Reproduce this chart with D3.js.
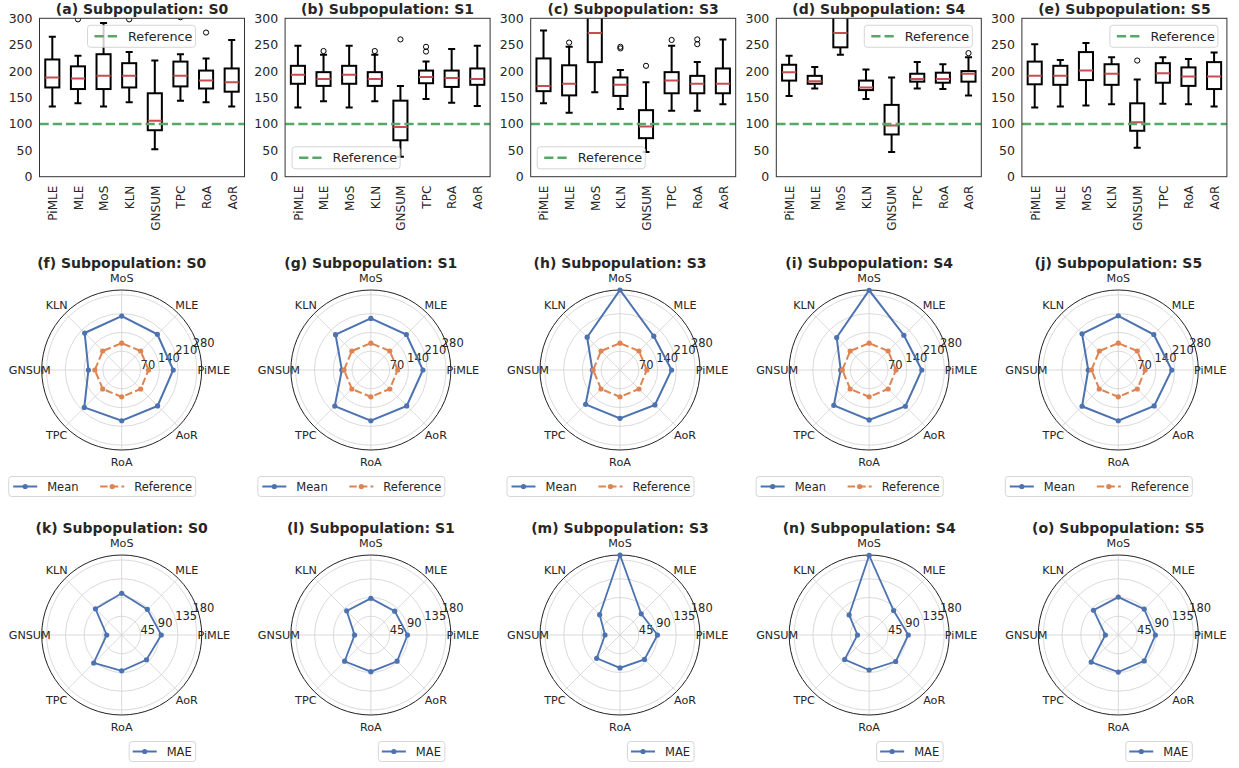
<!DOCTYPE html>
<html>
<head>
<meta charset="utf-8">
<script src="https://cdn.jsdelivr.net/npm/d3@7"></script>
<style>
  body { margin: 0; background: #fff; }
  svg { display: block; }
  text { font-family: "DejaVu Sans", sans-serif; fill: #262626; }
</style>
</head>
<body>
<svg id="chart" width="1239" height="768"></svg>
<script>
// ---------- data ----------
const methods = ["PiMLE", "MLE", "MoS", "KLN", "GNSUM", "TPC", "RoA", "AoR"];
const subpops = ["S0", "S1", "S3", "S4", "S5"];
const referenceValue = 100;
const boxYTicks = [0, 50, 100, 150, 200, 250, 300];
const meanRadialTicks = [70, 140, 210, 280];
const maeRadialTicks = [45, 90, 135, 180];

// box summaries per method: [lower whisker, Q1, median, Q3, upper whisker]
const boxS0 = [[133,169,188,222,265],[139,166,186,209,229],[133,166,191,232,291],[141,169,191,215,236],
               [52,88,106,158,220],[144,171,191,218,232],[141,167,182,201,224],[133,161,179,205,259]];
const boxS1 = [[131,176,193,210,248],[143,172,185,198,231],[131,176,193,210,248],[143,172,185,198,231],
               [38,69,94,144,172],[147,177,189,201,218],[140,170,187,201,242],[134,174,185,205,248]];
const boxS3 = [[139,162,172,224,277],[121,154,176,211,246],[160,217,272,318,390],[128,153,174,188,202],
               [47,73,95,126,179],[125,158,182,198,248],[125,158,176,191,217],[137,158,176,205,260]];
const boxS4 = [[153,182,198,212,229],[167,176,181,191,208],[231,245,272,312,350],[147,164,169,182,203],
               [47,80,97,136,188],[167,180,185,195,217],[166,178,185,197,213],[154,180,195,200,226]];
const boxS5 = [[131,175,191,218,251],[133,174,191,210,221],[135,183,201,236,253],[137,174,195,213,226],
               [55,87,103,139,184],[138,178,196,215,226],[137,172,190,207,223],[133,166,190,217,235]];

// outliers per method
const outliersS0 = [[], [298], [], [298], [], [302], [273], []];
const outliersS1 = [[], [238], [], [238], [260], [237, 246], [], []];
const outliersS3 = [[], [254], [], [243, 246], [210], [259], [251, 260], []];
const outliersS4 = [[], [], [], [], [], [], [], [234]];
const outliersS5 = [[], [], [], [], [220], [], [], []];

// mean estimate per method
const meanS0 = [192, 188, 201, 195, 124, 197, 189, 189];
const meanS1 = [194, 187, 192, 186, 108, 190, 189, 189];
const meanS3 = [192, 178, 298, 173, 103, 181, 180, 184];
const meanS4 = [196, 183, 297, 171, 106, 186, 186, 191];
const meanS5 = [199, 187, 202, 191, 112, 191, 189, 189];

// mean absolute error per method
const maeS0 = [95, 87, 100, 89, 36, 95, 86, 84];
const maeS1 = [88, 81, 88, 82, 39, 89, 88, 89];
const maeS3 = [90, 72, 192, 69, 36, 79, 79, 83];
const maeS4 = [94, 83, 191, 68, 28, 83, 84, 90];
const maeS5 = [89, 88, 91, 84, 31, 92, 89, 88];

// ---------- styling ----------
const C = {
  text: "#262626", spine: "#333333", box: "#000000", median: "#C44E52",
  ref: "#55A868", blue: "#4C72B0", orange: "#DD8452", grid: "#d0d0d0", legendEdge: "#cccccc"
};

const svg = d3.select("#chart");

// ---------- box plots (a)-(e) ----------
const boxPanels = [
  { letter: "a", stats: boxS0, outl: outliersS0, legend: { dx: 48, dy: 7 } },
  { letter: "b", stats: boxS1, outl: outliersS1, legend: { dx: 7, dy: 128.5 } },
  { letter: "c", stats: boxS3, outl: outliersS3, legend: { dx: 6.5, dy: 128.5 } },
  { letter: "d", stats: boxS4, outl: outliersS4, legend: { dx: 88, dy: 7 } },
  { letter: "e", stats: boxS5, outl: outliersS5, legend: { dx: 88, dy: 7 } }
];

const boxTop = 18.3, boxH = 158.4, boxW = 205;

boxPanels.forEach((p, i) => {
  const left = 39.5 + i * 245.6;
  const g = svg.append("g");
  const x = d3.scalePoint().domain(methods).range([left, left + boxW]).padding(0.5);
  const y = d3.scaleLinear().domain([0, 300]).range([boxTop + boxH, boxTop]);
  const halfBox = x.step() * 0.275;
  const halfCap = halfBox / 2;

  const clipId = "clip-" + p.letter;
  g.append("clipPath").attr("id", clipId)
    .append("rect").attr("x", left).attr("y", boxTop).attr("width", boxW).attr("height", boxH);

  const plot = g.append("g").attr("clip-path", `url(#${clipId})`);

  methods.forEach((m, j) => {
    const [lo, q1, med, q3, hi] = p.stats[j];
    const cx = x(m);
    const mg = plot.append("g")
      .attr("stroke", C.box).attr("stroke-width", 2).attr("fill", "none");
    mg.append("line").attr("x1", cx).attr("x2", cx).attr("y1", y(lo)).attr("y2", y(q1));
    mg.append("line").attr("x1", cx).attr("x2", cx).attr("y1", y(q3)).attr("y2", y(hi));
    mg.append("line").attr("x1", cx - halfCap).attr("x2", cx + halfCap).attr("y1", y(lo)).attr("y2", y(lo));
    mg.append("line").attr("x1", cx - halfCap).attr("x2", cx + halfCap).attr("y1", y(hi)).attr("y2", y(hi));
    mg.append("rect").attr("x", cx - halfBox).attr("width", halfBox * 2)
      .attr("y", y(q3)).attr("height", y(q1) - y(q3));
    plot.append("line").attr("x1", cx - halfBox).attr("x2", cx + halfBox)
      .attr("y1", y(med)).attr("y2", y(med))
      .attr("stroke", C.median).attr("stroke-width", 2);
    p.outl[j].forEach(v => {
      plot.append("circle").attr("cx", cx).attr("cy", y(v)).attr("r", 2.6)
        .attr("fill", "none").attr("stroke", C.box).attr("stroke-width", 1);
    });
  });

  // reference line
  plot.append("line").attr("x1", left).attr("x2", left + boxW)
    .attr("y1", y(referenceValue)).attr("y2", y(referenceValue))
    .attr("stroke", C.ref).attr("stroke-width", 2.5).attr("stroke-dasharray", "9.25,4");

  // frame
  g.append("rect").attr("x", left).attr("y", boxTop).attr("width", boxW).attr("height", boxH)
    .attr("fill", "none").attr("stroke", C.spine).attr("stroke-width", 1);

  // axes
  const ya = g.append("g").attr("transform", `translate(${left},0)`)
    .call(d3.axisLeft(y).tickValues(boxYTicks).tickSize(0).tickPadding(7));
  ya.select(".domain").remove();
  ya.selectAll("text").attr("font-size", 12.5).attr("fill", C.text)
    .style("font-family", '"DejaVu Sans", sans-serif');

  const xa = g.append("g").attr("transform", `translate(0,${boxTop + boxH})`)
    .call(d3.axisBottom(x).tickSize(0));
  xa.select(".domain").remove();
  xa.selectAll("text")
    .attr("font-size", 12).attr("fill", C.text)
    .style("font-family", '"DejaVu Sans", sans-serif')
    .attr("transform", "rotate(-90)")
    .attr("x", -9).attr("y", 0).attr("dy", "0.36em")
    .attr("text-anchor", "end");

  // title
  g.append("text").attr("x", left + boxW / 2).attr("y", 14)
    .attr("text-anchor", "middle").attr("font-size", 14).attr("font-weight", "bold")
    .text(`(${p.letter}) Subpopulation: ${subpops[i]}`);

  // legend
  const lx = left + p.legend.dx, ly = boxTop + p.legend.dy;
  const lg = g.append("g").attr("transform", `translate(${lx},${ly})`);
  lg.append("rect").attr("width", 108).attr("height", 22).attr("rx", 3)
    .attr("fill", "#fff").attr("fill-opacity", 0.8)
    .attr("stroke", C.legendEdge).attr("stroke-width", 0.8);
  lg.append("line").attr("x1", 7).attr("x2", 31).attr("y1", 11).attr("y2", 11)
    .attr("stroke", C.ref).attr("stroke-width", 2.5).attr("stroke-dasharray", "9.25,4");
  lg.append("text").attr("x", 40.5).attr("y", 11).attr("dy", "0.35em")
    .attr("font-size", 12.8).text("Reference");
});

// ---------- radar charts ----------
const radarR = 80;
const angleOf = i => Math.PI / 2 - i * Math.PI / 4; // d3 radial angle: PiMLE east, counter-clockwise

function drawRadar(cx, cy, title, series, rMax, ticks) {
  const g = svg.append("g").attr("transform", `translate(${cx},${cy})`);
  const r = d3.scaleLinear().domain([0, rMax]).range([0, radarR]);

  // rings
  g.selectAll(".ring").data(ticks).join("circle")
    .attr("r", d => r(d)).attr("fill", "none")
    .attr("stroke", C.grid).attr("stroke-width", 0.8);
  // spokes
  methods.forEach((m, i) => {
    const [px, py] = d3.pointRadial(angleOf(i), radarR);
    g.append("line").attr("x1", 0).attr("y1", 0).attr("x2", px).attr("y2", py)
      .attr("stroke", C.grid).attr("stroke-width", 0.8);
  });
  // outer circle
  g.append("circle").attr("r", radarR).attr("fill", "none")
    .attr("stroke", "#222").attr("stroke-width", 1);

  // radial tick labels along 22.5 degrees
  ticks.forEach(t => {
    const a = Math.PI / 2 - Math.PI / 8;
    const [px, py] = d3.pointRadial(a, r(t));
    g.append("text").attr("x", px + 1.5).attr("y", py + 2)
      .attr("dy", "0.35em").attr("font-size", 11.5).text(t);
  });

  // series
  series.forEach(s => {
    const line = d3.lineRadial()
      .angle((d, i) => angleOf(i)).radius(d => r(d))
      .curve(d3.curveLinearClosed);
    g.append("path").attr("d", line(s.values)).attr("fill", "none")
      .attr("stroke", s.color).attr("stroke-width", s.width)
      .attr("stroke-dasharray", s.dash || null);
    s.values.forEach((v, i) => {
      const [px, py] = d3.pointRadial(angleOf(i), r(v));
      g.append("circle").attr("cx", px).attr("cy", py).attr("r", 2.6).attr("fill", s.color);
    });
  });

  // category labels
  methods.forEach((m, i) => {
    const [px, py] = d3.pointRadial(angleOf(i), radarR + 12);
    g.append("text").attr("x", px).attr("y", py).attr("dy", "0.35em")
      .attr("text-anchor", "middle").attr("font-size", 11.2).text(m);
  });

  // title
  g.append("text").attr("x", 0).attr("y", -102.5).attr("text-anchor", "middle")
    .attr("font-size", 14).attr("font-weight", "bold").text(title);
  return g;
}

function legendEntry(g, x0, y0, color, dash, label) {
  g.append("line").attr("x1", x0).attr("x2", x0 + 24).attr("y1", y0).attr("y2", y0)
    .attr("stroke", color).attr("stroke-width", 2).attr("stroke-dasharray", dash || null);
  g.append("circle").attr("cx", x0 + 12).attr("cy", y0).attr("r", 2.6).attr("fill", color);
  g.append("text").attr("x", x0 + 34).attr("y", y0).attr("dy", "0.35em")
    .attr("font-size", 11.5).text(label);
}

const meanSeries = [meanS0, meanS1, meanS3, meanS4, meanS5];
const maeSeries = [maeS0, maeS1, maeS3, maeS4, maeS5];
const meanMax = d3.max(meanSeries.flat());
const maeMax = d3.max(maeSeries.flat());
const referenceSeries = methods.map(() => referenceValue);
const meanLetters = ["f", "g", "h", "i", "j"];
const maeLetters = ["k", "l", "m", "n", "o"];

subpops.forEach((s, i) => {
  const cx = 121.7 + i * 249.15;

  // mean vs reference
  drawRadar(cx, 370, `(${meanLetters[i]}) Subpopulation: ${s}`, [
    { values: meanSeries[i], color: C.blue, width: 2 },
    { values: referenceSeries, color: C.orange, width: 2, dash: "7.4,3.2" }
  ], meanMax, meanRadialTicks);
  const lg1 = svg.append("g").attr("transform", `translate(${cx - 113},${476.5})`);
  lg1.append("rect").attr("width", 187).attr("height", 20).attr("rx", 3)
    .attr("fill", "#fff").attr("stroke", C.legendEdge).attr("stroke-width", 0.8);
  legendEntry(lg1, 4.5, 10, C.blue, null, "Mean");
  legendEntry(lg1, 91.5, 10, C.orange, "7.4,3.2", "Reference");

  // mean absolute error
  drawRadar(cx, 635, `(${maeLetters[i]}) Subpopulation: ${s}`, [
    { values: maeSeries[i], color: C.blue, width: 1.8 }
  ], maeMax, maeRadialTicks);
  const lg2 = svg.append("g").attr("transform", `translate(${cx + 7.5},${741.5})`);
  lg2.append("rect").attr("width", 66.5).attr("height", 20).attr("rx", 3)
    .attr("fill", "#fff").attr("stroke", C.legendEdge).attr("stroke-width", 0.8);
  legendEntry(lg2, 3.5, 10, C.blue, null, "MAE");
});
</script>
</body>
</html>
